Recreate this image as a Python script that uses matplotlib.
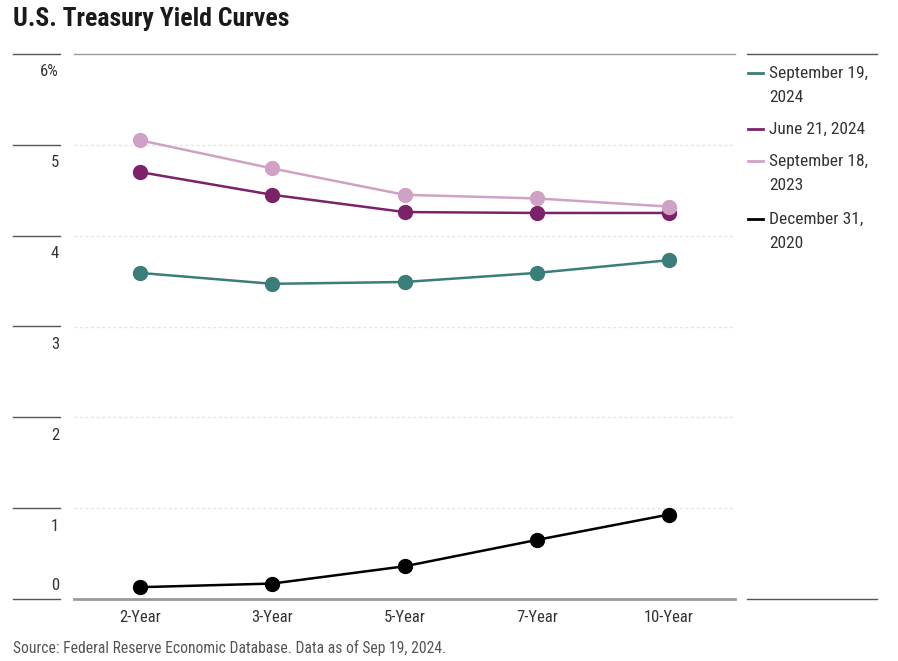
import matplotlib
matplotlib.use("Agg")
import matplotlib.pyplot as plt
from matplotlib.lines import Line2D
from matplotlib import font_manager

names = {f.name for f in font_manager.fontManager.ttflist}
FONT = next((n for n in ['Roboto Condensed', 'Archivo Narrow', 'Barlow Semi Condensed',
                         'Liberation Sans Narrow'] if n in names), 'DejaVu Sans')
plt.rcParams['font.family'] = [FONT, 'DejaVu Sans']

tenors = ["2-Year", "3-Year", "5-Year", "7-Year", "10-Year"]
sep2024 = [3.59, 3.47, 3.49, 3.59, 3.73]
jun2024 = [4.70, 4.45, 4.26, 4.25, 4.25]
sep2023 = [5.05, 4.74, 4.45, 4.41, 4.32]
dec2020 = [0.13, 0.17, 0.36, 0.65, 0.93]
series_labels = ["September 19,\n2024", "June 21, 2024", "September 18,\n2023", "December 31,\n2020"]
colors = ["#3b7d78", "#7b2269", "#cfa2c5", "#000000"]
yticks = [0, 1, 2, 3, 4, 5, 6]
ytick_labels = ["0", "1", "2", "3", "4", "5", "6%"]

W, H = 898, 661
fig = plt.figure(figsize=(W/100, H/100), dpi=100)

def fx(px): return px / W
def fy(py): return 1 - py / H

ax = fig.add_axes([fx(74), fy(599), fx(735) - fx(74), fy(54) - fy(599)])
xs = list(range(len(tenors)))
for vals, c in zip([sep2024, jun2024, sep2023, dec2020], colors):
    ax.plot(xs, vals, color=c, lw=1.8, marker='o', ms=10, zorder=3)
ax.set_xlim(-0.5, 4.5)
ax.set_ylim(0, 6)
for s in ax.spines.values():
    s.set_visible(False)
for y in [1, 2, 3, 4, 5]:
    ax.axhline(y, color="#e3e3e3", lw=1, ls=(0, (2, 2)), zorder=1)
ax.axhline(6, color="#9a9a9a", lw=1, zorder=1, clip_on=False)
ax.axhline(0, color="#9a9a9a", lw=2, zorder=1, clip_on=False)
ax.set_yticks([])
ax.set_xticks(xs)
ax.set_xticklabels(tenors, fontsize=12, color="#333333")
ax.tick_params(axis='x', length=0, pad=8)

for v, lab in zip(yticks, ytick_labels):
    py = 599 - v * (545 / 6)
    fig.add_artist(Line2D([fx(13), fx(60)], [fy(py), fy(py)], color="#555555", lw=1))
    off = -14 if v == 0 else 18
    fig.text(fx(59), fy(py + off), lab, ha='right', va='center', fontsize=12, color="#333333")

fig.add_artist(Line2D([fx(747), fx(877)], [fy(54), fy(54)], color="#555555", lw=1))
fig.add_artist(Line2D([fx(747), fx(877)], [fy(599), fy(599)], color="#555555", lw=1))
leg_y = [73, 129, 161, 219]
for ly, lab, c in zip(leg_y, series_labels, colors):
    fig.add_artist(Line2D([fx(748), fx(763)], [fy(ly), fy(ly)], color=c, lw=2))
    fig.text(fx(769), fy(ly - 7), lab, ha='left', va='top', fontsize=12.5, color="#333333",
             linespacing=1.72)

fig.text(fx(13), fy(19), "U.S. Treasury Yield Curves", ha='left', va='center',
         fontsize=18.5, fontweight='bold', color="#1a1a1a")
fig.text(fx(13), fy(648), "Source: Federal Reserve Economic Database. Data as of Sep 19, 2024.",
         ha='left', va='center', fontsize=11.25, color="#555555")

fig.savefig("out.png", dpi=100)
